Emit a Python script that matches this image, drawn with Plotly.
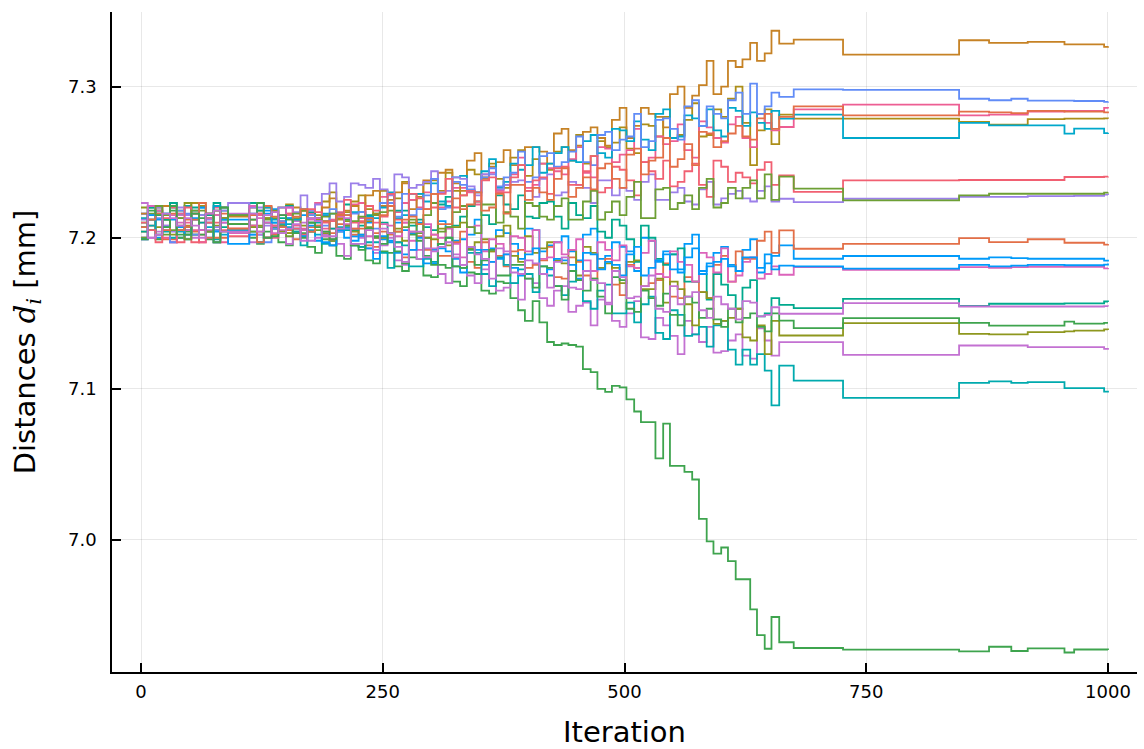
import plotly.graph_objects as go

# iteration knots of the noisy phase and of the plateau phase
ITER_NOISY = [0, 7, 15, 22, 30, 37, 45, 52, 60, 67, 75, 82, 90, 97, 105, 112, 120, 127, 135, 142,
              150, 157, 165, 172, 180, 187, 195, 202, 210, 217, 225, 232, 240, 247, 255, 262, 270, 277,
              285, 292, 300, 307, 315, 322, 330, 337, 345, 352, 360, 367, 375, 382, 390, 397, 405, 412,
              420, 427, 435, 442, 450, 457, 465, 472, 480, 487, 495, 502, 510, 517, 525, 532, 540, 547,
              555, 562, 570, 577, 585, 592, 600, 607, 615, 622, 630, 637, 645, 652]
ITER_TAIL = [660, 675, 726, 846, 877, 900, 917, 955, 965, 996, 1000]

# distances d_i [mm] per series: noisy-phase values (dNN), then plateau values (tNN)
d01 = [7.216,7.205,7.200,7.216,7.223,7.200,7.207,7.212,7.220,7.204,7.197,7.220,7.212,7.212,7.212,7.208,7.202,7.216,7.219,7.204,
       7.205,7.212,7.215,7.205,7.198,7.215,7.211,7.206,7.215,7.201,7.201,7.210,7.216,7.199,7.198,7.210,7.205,7.203,7.210,7.200,
       7.192,7.211,7.207,7.198,7.199,7.202,7.212,7.192,7.193,7.205,7.203,7.196,7.186,7.206,7.205,7.191,7.195,7.197,7.201,7.191,
       7.185,7.202,7.206,7.186,7.188,7.197,7.194,7.191,7.178,7.200,7.198,7.184,7.191,7.189,7.179,7.196,7.202,7.178,7.183,7.190,
       7.194,7.182,7.178,7.192,7.199,7.177,7.183,7.188]
t01 = [7.1949,7.1861,7.1879,7.1861,7.1870,7.1865,7.1861,7.1861,7.1861,7.1849,7.1855]

d02 = [7.204,7.208,7.218,7.199,7.199,7.213,7.212,7.204,7.197,7.216,7.215,7.200,7.206,7.206,7.206,7.208,7.216,7.200,7.202,7.211,
       7.216,7.199,7.202,7.207,7.208,7.201,7.195,7.209,7.205,7.202,7.210,7.195,7.194,7.204,7.202,7.197,7.187,7.204,7.201,7.192,
       7.202,7.188,7.188,7.197,7.204,7.184,7.180,7.197,7.191,7.188,7.181,7.191,7.192,7.180,7.182,7.185,7.194,7.174,7.173,7.187,
       7.184,7.175,7.173,7.180,7.186,7.169,7.162,7.182,7.180,7.168,7.170,7.172,7.183,7.161,7.160,7.174,7.171,7.164,7.160,7.182,
       7.188,7.171,7.191,7.186,7.186,7.198,7.204,7.190]
t02 = [7.2049,7.1927,7.1960,7.1998,7.1971,7.1971,7.1990,7.1967,7.1967,7.1954,7.1958]

d03 = [7.210,7.220,7.199,7.212,7.218,7.200,7.204,7.216,7.213,7.199,7.197,7.212,7.209,7.209,7.209,7.200,7.196,7.204,7.207,7.197,
       7.195,7.204,7.203,7.194,7.190,7.199,7.198,7.188,7.186,7.195,7.194,7.185,7.183,7.191,7.190,7.181,7.178,7.187,7.186,7.175,
       7.174,7.182,7.180,7.171,7.168,7.177,7.176,7.165,7.163,7.171,7.170,7.160,7.152,7.145,7.158,7.144,7.131,7.129,7.130,7.129,
       7.128,7.113,7.111,7.100,7.098,7.102,7.101,7.093,7.085,7.078,7.078,7.054,7.077,7.049,7.049,7.045,7.040,7.014,6.999,6.991,
       6.995,6.986,6.974,6.974,6.954,6.937,6.928,6.949]
t03 = [6.9323,6.9285,6.9274,6.9262,6.9293,6.9265,6.9283,6.9255,6.9275,6.9275,6.9272]

d04 = [7.216,7.200,7.204,7.208,7.197,7.215,7.215,7.200,7.210,7.205,7.197,7.213,7.216,7.216,7.216,7.197,7.202,7.210,7.208,7.205,
       7.196,7.211,7.210,7.198,7.200,7.202,7.206,7.196,7.188,7.205,7.200,7.193,7.190,7.195,7.200,7.185,7.182,7.192,7.186,7.193,
       7.193,7.176,7.170,7.189,7.182,7.175,7.170,7.179,7.184,7.165,7.167,7.170,7.159,7.173,7.170,7.160,7.155,7.165,7.168,7.151,
       7.155,7.157,7.142,7.159,7.157,7.145,7.141,7.150,7.158,7.134,7.133,7.147,7.142,7.135,7.123,7.145,7.136,7.131,7.141,7.124,
       7.125,7.132,7.136,7.122,7.120,7.140,7.132,7.122]
t04 = [7.1309,7.1309,7.1225,7.1287,7.1287,7.1287,7.1276,7.1276,7.1276,7.1265,7.1270]

d05 = [7.207,7.221,7.220,7.212,7.223,7.208,7.202,7.223,7.221,7.210,7.218,7.213,7.209,7.209,7.209,7.220,7.218,7.213,7.206,7.220,
       7.222,7.212,7.218,7.216,7.212,7.224,7.230,7.213,7.217,7.224,7.228,7.219,7.216,7.231,7.229,7.226,7.237,7.225,7.227,7.236,
       7.238,7.231,7.243,7.231,7.228,7.245,7.242,7.240,7.249,7.239,7.233,7.253,7.258,7.241,7.252,7.249,7.245,7.257,7.260,7.251,
       7.268,7.249,7.254,7.264,7.260,7.263,7.273,7.259,7.256,7.275,7.274,7.267,7.280,7.266,7.268,7.278,7.289,7.267,7.268,7.285,
       7.280,7.292,7.300,7.276,7.248,7.271,7.285,7.262]
t05 = [7.2815,7.2788,7.2788,7.2766,7.2748,7.2748,7.2785,7.2788,7.2788,7.2790,7.2788]

d06 = [7.213,7.208,7.218,7.204,7.200,7.216,7.221,7.202,7.205,7.213,7.199,7.218,7.215,7.215,7.215,7.204,7.223,7.200,7.206,7.209,
       7.209,7.204,7.195,7.210,7.210,7.196,7.195,7.204,7.205,7.195,7.194,7.197,7.197,7.190,7.180,7.197,7.195,7.181,7.181,7.186,
       7.184,7.196,7.200,7.181,7.180,7.190,7.190,7.176,7.168,7.187,7.182,7.170,7.179,7.176,7.164,7.181,7.175,7.168,7.162,7.171,
       7.172,7.158,7.153,7.165,7.169,7.150,7.150,7.157,7.144,7.156,7.161,7.137,7.133,7.152,7.149,7.135,7.136,7.141,7.128,7.142,
       7.145,7.126,7.116,7.126,7.116,7.123,7.112,7.089]
t06 = [7.1154,7.1055,7.0940,7.1040,7.1050,7.1040,7.1045,7.1005,7.1005,7.0982,7.0975]

d07 = [7.200,7.212,7.216,7.200,7.197,7.216,7.210,7.205,7.197,7.213,7.220,7.197,7.206,7.206,7.206,7.208,7.215,7.200,7.200,7.215,
       7.215,7.208,7.206,7.216,7.223,7.206,7.212,7.217,7.208,7.222,7.223,7.214,7.210,7.227,7.229,7.217,7.223,7.225,7.220,7.230,
       7.239,7.220,7.224,7.233,7.233,7.230,7.222,7.242,7.243,7.231,7.235,7.242,7.253,7.233,7.235,7.249,7.246,7.244,7.242,7.252,
       7.260,7.243,7.240,7.260,7.259,7.250,7.255,7.258,7.272,7.250,7.253,7.267,7.262,7.264,7.275,7.258,7.253,7.277,7.273,7.266,
       7.263,7.275,7.280,7.266,7.260,7.282,7.276,7.271]
t07 = [7.2733,7.2850,7.2881,7.2810,7.2815,7.2815,7.2835,7.2840,7.2840,7.2860,7.2855]

d08 = [7.216,7.212,7.202,7.221,7.221,7.207,7.208,7.216,7.223,7.204,7.205,7.220,7.214,7.214,7.214,7.212,7.204,7.220,7.217,7.208,
       7.203,7.220,7.218,7.213,7.213,7.220,7.226,7.212,7.218,7.221,7.213,7.228,7.231,7.221,7.225,7.230,7.236,7.219,7.229,7.238,
       7.229,7.243,7.245,7.236,7.231,7.251,7.256,7.239,7.247,7.250,7.258,7.248,7.248,7.260,7.260,7.257,7.249,7.269,7.272,7.258,
       7.261,7.270,7.273,7.266,7.261,7.278,7.286,7.266,7.274,7.286,7.282,7.280,7.273,7.295,7.300,7.286,7.294,7.301,7.317,7.295,
       7.300,7.317,7.313,7.318,7.329,7.317,7.322,7.337]
t08 = [7.3285,7.3311,7.3212,7.3307,7.3290,7.3290,7.3296,7.3280,7.3280,7.3263,7.3268]

d09 = [7.204,7.220,7.216,7.212,7.223,7.205,7.205,7.220,7.210,7.215,7.223,7.207,7.204,7.204,7.204,7.223,7.218,7.210,7.210,7.213,
       7.221,7.206,7.205,7.217,7.213,7.211,7.206,7.216,7.222,7.205,7.208,7.215,7.215,7.210,7.203,7.218,7.218,7.208,7.212,7.207,
       7.205,7.222,7.227,7.208,7.214,7.221,7.224,7.215,7.209,7.228,7.222,7.219,7.228,7.214,7.213,7.223,7.224,7.214,7.206,7.223,
       7.215,7.213,7.221,7.204,7.200,7.212,7.208,7.199,7.184,7.208,7.200,7.186,7.182,7.189,7.193,7.171,7.171,7.176,7.159,7.176,
       7.169,7.162,7.153,7.167,7.172,7.148,7.150,7.160]
t09 = [7.1556,7.1534,7.1596,7.1549,7.1563,7.1563,7.1563,7.1566,7.1566,7.1578,7.1575]

d10 = [7.220,7.205,7.207,7.215,7.202,7.218,7.223,7.202,7.205,7.216,7.208,7.213,7.215,7.215,7.215,7.207,7.208,7.213,7.218,7.204,
       7.203,7.213,7.208,7.210,7.215,7.203,7.198,7.215,7.211,7.204,7.202,7.211,7.215,7.200,7.203,7.206,7.198,7.210,7.209,7.200,
       7.199,7.206,7.195,7.207,7.210,7.193,7.197,7.199,7.191,7.201,7.208,7.188,7.184,7.201,7.190,7.193,7.197,7.185,7.183,7.192,
       7.175,7.194,7.190,7.180,7.183,7.180,7.170,7.184,7.185,7.166,7.166,7.173,7.157,7.171,7.166,7.156,7.142,7.164,7.160,7.143,
       7.145,7.147,7.153,7.134,7.132,7.142,7.123,7.145]
t10 = [7.1353,7.1353,7.1435,7.1364,7.1360,7.1360,7.1375,7.1380,7.1385,7.1393,7.1390]

d11 = [7.207,7.212,7.202,7.216,7.220,7.204,7.199,7.218,7.215,7.207,7.221,7.202,7.205,7.205,7.205,7.216,7.197,7.220,7.212,7.209,
       7.207,7.212,7.219,7.204,7.202,7.216,7.216,7.207,7.207,7.217,7.217,7.214,7.213,7.220,7.230,7.213,7.215,7.229,7.229,7.224,
       7.236,7.224,7.221,7.240,7.241,7.231,7.230,7.244,7.252,7.233,7.237,7.249,7.245,7.248,7.260,7.243,7.249,7.256,7.260,7.251,
       7.250,7.264,7.268,7.256,7.253,7.272,7.271,7.264,7.277,7.265,7.258,7.282,7.285,7.266,7.267,7.281,7.279,7.274,7.285,7.271,
       7.267,7.286,7.284,7.274,7.283,7.276,7.272,7.284]
t11 = [7.2788,7.2815,7.2660,7.2760,7.2744,7.2744,7.2744,7.2689,7.2722,7.2693,7.2695]

d12 = [7.212,7.215,7.220,7.208,7.204,7.220,7.215,7.212,7.215,7.212,7.207,7.218,7.223,7.223,7.223,7.220,7.220,7.208,7.208,7.220,
       7.220,7.217,7.228,7.218,7.222,7.229,7.236,7.224,7.227,7.236,7.235,7.233,7.239,7.232,7.228,7.242,7.240,7.233,7.235,7.237,
       7.244,7.230,7.231,7.240,7.239,7.234,7.228,7.242,7.242,7.232,7.235,7.237,7.238,7.231,7.227,7.239,7.242,7.228,7.230,7.237,
       7.235,7.233,7.223,7.238,7.238,7.228,7.233,7.231,7.225,7.237,7.242,7.225,7.225,7.230,7.233,7.224,7.222,7.232,7.237,7.222,
       7.226,7.229,7.231,7.226,7.224,7.231,7.234,7.224]
t12 = [7.2258,7.2236,7.2258,7.2270,7.2270,7.2270,7.2275,7.2275,7.2278,7.2285,7.2283]

d13 = [7.200,7.215,7.213,7.205,7.197,7.218,7.216,7.202,7.205,7.210,7.205,7.210,7.215,7.215,7.215,7.202,7.223,7.197,7.206,7.211,
       7.213,7.206,7.201,7.215,7.211,7.208,7.219,7.204,7.206,7.216,7.217,7.212,7.206,7.223,7.223,7.214,7.229,7.215,7.219,7.228,
       7.239,7.219,7.220,7.237,7.235,7.232,7.230,7.240,7.246,7.234,7.240,7.243,7.257,7.237,7.240,7.254,7.256,7.247,7.250,7.257,
       7.267,7.250,7.248,7.268,7.270,7.258,7.265,7.267,7.282,7.260,7.264,7.278,7.279,7.272,7.265,7.287,7.291,7.274,7.287,7.282,
       7.279,7.291,7.296,7.282,7.302,7.282,7.287,7.296]
t13 = [7.2932,7.2982,7.2978,7.2920,7.2910,7.2920,7.2907,7.2907,7.2905,7.2899,7.2902]

d14 = [7.210,7.205,7.197,7.213,7.220,7.197,7.220,7.197,7.202,7.210,7.210,7.205,7.201,7.201,7.201,7.215,7.216,7.200,7.208,7.210,
       7.216,7.206,7.202,7.219,7.217,7.210,7.211,7.216,7.225,7.210,7.211,7.221,7.218,7.214,7.229,7.212,7.210,7.229,7.226,7.219,
       7.220,7.229,7.239,7.220,7.228,7.231,7.224,7.238,7.240,7.230,7.230,7.240,7.248,7.231,7.238,7.240,7.229,7.246,7.247,7.235,
       7.235,7.244,7.254,7.230,7.233,7.247,7.245,7.238,7.228,7.250,7.244,7.239,7.251,7.234,7.237,7.244,7.249,7.235,7.227,7.251,
       7.247,7.237,7.243,7.240,7.236,7.245,7.250,7.235]
t14 = [7.2413,7.2303,7.2380,7.2382,7.2382,7.2382,7.2382,7.2402,7.2402,7.2404,7.2406]

d15 = [7.199,7.221,7.218,7.207,7.215,7.210,7.205,7.216,7.205,7.216,7.215,7.210,7.203,7.203,7.203,7.221,7.213,7.210,7.203,7.215,
       7.220,7.203,7.205,7.212,7.213,7.204,7.199,7.214,7.209,7.206,7.213,7.201,7.200,7.209,7.208,7.201,7.210,7.198,7.192,7.209,
       7.202,7.200,7.206,7.196,7.187,7.207,7.208,7.191,7.199,7.196,7.189,7.201,7.200,7.191,7.205,7.186,7.187,7.197,7.189,7.192,
       7.199,7.185,7.178,7.197,7.192,7.185,7.195,7.181,7.180,7.190,7.198,7.176,7.174,7.191,7.184,7.182,7.171,7.190,7.187,7.177,
       7.193,7.171,7.175,7.184,7.187,7.173,7.176,7.181]
t15 = [7.1755,7.1806,7.1788,7.1806,7.1800,7.1806,7.1808,7.1808,7.1808,7.1797,7.1800]

d16 = [7.200,7.216,7.221,7.202,7.205,7.213,7.199,7.218,7.218,7.204,7.218,7.204,7.215,7.215,7.215,7.204,7.207,7.212,7.213,7.208,
       7.201,7.216,7.218,7.204,7.205,7.214,7.216,7.206,7.208,7.211,7.214,7.207,7.200,7.217,7.218,7.204,7.207,7.212,7.203,7.215,
       7.223,7.204,7.207,7.217,7.221,7.207,7.203,7.222,7.222,7.210,7.217,7.214,7.206,7.223,7.221,7.214,7.212,7.221,7.226,7.212,
       7.212,7.224,7.231,7.212,7.217,7.224,7.215,7.227,7.237,7.213,7.213,7.232,7.233,7.219,7.223,7.228,7.219,7.233,7.239,7.220,
       7.223,7.233,7.226,7.233,7.238,7.226,7.242,7.225]
t16 = [7.2405,7.2325,7.2247,7.2280,7.2291,7.2291,7.2291,7.2291,7.2291,7.2298,7.2300]

d17 = [7.199,7.215,7.212,7.207,7.212,7.207,7.202,7.213,7.220,7.200,7.204,7.212,7.196,7.196,7.196,7.202,7.197,7.218,7.210,7.207,
       7.213,7.203,7.201,7.208,7.211,7.197,7.195,7.205,7.200,7.198,7.202,7.193,7.186,7.201,7.197,7.190,7.189,7.192,7.200,7.183,
       7.183,7.193,7.191,7.186,7.177,7.194,7.192,7.182,7.184,7.186,7.189,7.180,7.175,7.189,7.193,7.176,7.179,7.186,7.185,7.182,
       7.173,7.190,7.189,7.179,7.184,7.182,7.175,7.189,7.194,7.175,7.180,7.185,7.189,7.179,7.177,7.187,7.193,7.176,7.181,7.184,
       7.186,7.181,7.178,7.187,7.187,7.180,7.189,7.179]
t17 = [7.1815,7.1810,7.1795,7.1820,7.1810,7.1815,7.1820,7.1818,7.1818,7.1822,7.1830]

d18 = [7.207,7.212,7.216,7.205,7.216,7.205,7.207,7.212,7.223,7.200,7.200,7.216,7.206,7.206,7.206,7.215,7.197,7.221,7.214,7.207,
       7.205,7.214,7.219,7.204,7.208,7.211,7.203,7.215,7.215,7.206,7.206,7.213,7.203,7.215,7.221,7.204,7.212,7.214,7.209,7.219,
       7.229,7.209,7.209,7.226,7.219,7.222,7.230,7.218,7.220,7.229,7.216,7.235,7.235,7.225,7.233,7.230,7.225,7.239,7.246,7.227,
       7.233,7.240,7.232,7.246,7.249,7.239,7.233,7.255,7.259,7.242,7.251,7.253,7.266,7.247,7.252,7.262,7.248,7.270,7.269,7.260,
       7.264,7.269,7.274,7.267,7.265,7.279,7.282,7.272]
t18 = [7.2800,7.2870,7.2810,7.2835,7.2830,7.2825,7.2840,7.2835,7.2835,7.2830,7.2835]

d19 = [7.199,7.218,7.215,7.207,7.221,7.202,7.202,7.216,7.202,7.216,7.197,7.220,7.209,7.209,7.209,7.212,7.223,7.200,7.201,7.215,
       7.212,7.203,7.200,7.210,7.207,7.204,7.199,7.206,7.212,7.195,7.192,7.206,7.201,7.196,7.203,7.191,7.183,7.202,7.198,7.188,
       7.182,7.196,7.200,7.181,7.180,7.192,7.182,7.185,7.192,7.175,7.175,7.182,7.182,7.173,7.167,7.181,7.180,7.168,7.159,7.178,
       7.172,7.165,7.173,7.161,7.150,7.174,7.172,7.153,7.151,7.165,7.160,7.155,7.163,7.149,7.142,7.161,7.157,7.147,7.153,7.146,
       7.141,7.153,7.144,7.147,7.150,7.141,7.138,7.150]
t19 = [7.1452,7.1402,7.1468,7.1437,7.1419,7.1419,7.1419,7.1445,7.1432,7.1437,7.1437]

d20 = [7.223,7.200,7.202,7.216,7.213,7.208,7.213,7.208,7.200,7.216,7.218,7.204,7.204,7.204,7.204,7.216,7.204,7.215,7.217,7.203,
       7.206,7.209,7.198,7.213,7.211,7.201,7.201,7.206,7.213,7.196,7.196,7.205,7.192,7.206,7.203,7.194,7.184,7.204,7.204,7.187,
       7.191,7.194,7.197,7.187,7.182,7.194,7.189,7.186,7.173,7.193,7.191,7.177,7.176,7.185,7.183,7.176,7.167,7.184,7.187,7.167,
       7.166,7.178,7.172,7.170,7.156,7.178,7.174,7.160,7.161,7.168,7.175,7.153,7.151,7.168,7.156,7.161,7.164,7.152,7.147,7.161,
       7.156,7.153,7.146,7.158,7.157,7.148,7.149,7.154]
t20 = [7.1497,7.1497,7.1567,7.1545,7.1545,7.1545,7.1545,7.1545,7.1545,7.1547,7.1545]

SERIES = [(d01, t01), (d02, t02), (d03, t03), (d04, t04), (d05, t05),
          (d06, t06), (d07, t07), (d08, t08), (d09, t09), (d10, t10),
          (d11, t11), (d12, t12), (d13, t13), (d14, t14), (d15, t15),
          (d16, t16), (d17, t17), (d18, t18), (d19, t19), (d20, t20)]

PALETTE = ["#009AFA", "#E36F47", "#3EA44E", "#C371D2", "#AC8E18", "#00AAAE", "#ED5E93", "#C68225",
           "#00A98D", "#8E971E", "#00A8CB", "#9B7FE9", "#618CF7", "#F16072", "#DC63BB", "#6D9F34"]

iters = ITER_NOISY + ITER_TAIL
fig = go.Figure()
for k, (noisy, tail) in enumerate(SERIES):
    ys = noisy + tail
    assert len(ys) == len(iters), (k, len(noisy), len(tail))
    fig.add_trace(go.Scatter(
        x=iters, y=ys, mode="lines", line_shape="hv",
        line=dict(color=PALETTE[k % len(PALETTE)], width=1.8),
        showlegend=False, hoverinfo="skip"))

FONT = "DejaVu Sans"
axis_common = dict(
    showline=True, linecolor="black", linewidth=1.5, mirror=False,
    ticks="inside", ticklen=9, tickwidth=1.5, tickcolor="black",
    showgrid=True, gridcolor="rgba(0,0,0,0.09)", gridwidth=1,
    zeroline=False, tickfont=dict(family=FONT, size=18, color="black"),
)
fig.update_layout(
    width=1144, height=749,
    margin=dict(l=112, r=7, t=12, b=77),
    plot_bgcolor="white", paper_bgcolor="white",
    font=dict(family=FONT, color="black"),
    xaxis=dict(range=[-30, 1030], tickvals=[0, 250, 500, 750, 1000],
               ticklabelstandoff=3,
               title=dict(text="Iteration", font=dict(family=FONT, size=29), standoff=20),
               **axis_common),
    yaxis=dict(range=[6.9126, 7.3494], tickvals=[7.0, 7.1, 7.2, 7.3],
               ticktext=["7.0", "7.1", "7.2", "7.3"], ticklabelstandoff=10,
               title=dict(text="Distances <span style=\"font-family:'DejaVu Serif'\"><i>d</i><sub><i>i</i></sub></span> [mm]",
                          font=dict(family=FONT, size=29), standoff=24),
               **axis_common),
)
fig.write_html("out.html", config={"displayModeBar": False})
